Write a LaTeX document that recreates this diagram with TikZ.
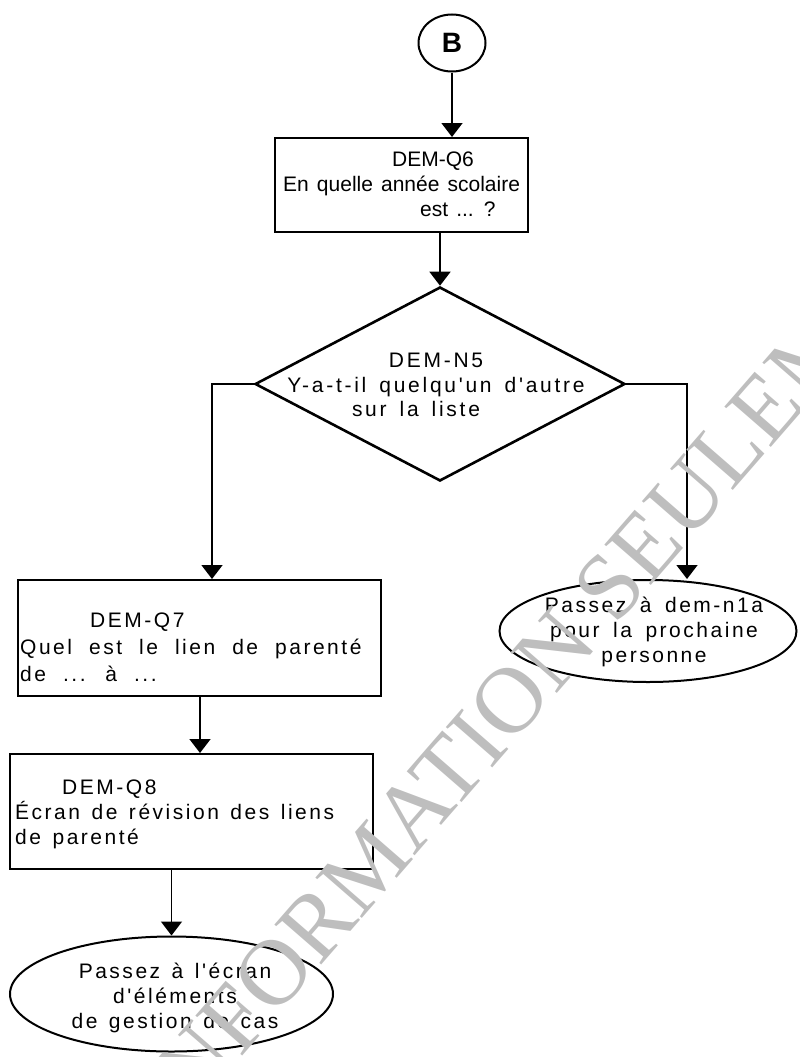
\documentclass[tikz,border=0pt]{standalone}
\usepackage{fontspec}
\setmainfont{Liberation Sans}[Ligatures=TeXOff]
\newfontfamily\fq{Liberation Sans}[Ligatures=TeXOff]
\newfontfamily\fw{Liberation Sans}[Ligatures=TeXOff,LetterSpace=12]
\newfontfamily\fd{Liberation Sans}[Ligatures=TeXOff,LetterSpace=13]
\newfontfamily\fwm{Liberation Serif}
\usetikzlibrary{shapes.geometric,arrows.meta}
\definecolor{wmgray}{RGB}{190,190,190}
\begin{document}
\begin{tikzpicture}[x=1pt,y=-1pt,
  shapeline/.style={draw=black,line width=2pt},
  boxnode/.style={shapeline,rectangle,inner sep=0pt,anchor=north west},
  ovalnode/.style={shapeline,ellipse,inner sep=0pt},
  lefttxt/.style={inner sep=0pt,align=left,anchor=north west},
  midtxt/.style={inner sep=0pt,align=center,anchor=north},
  arr/.style={line width=1.6pt,-{Triangle[length=14pt,width=21pt]}},
  wm/.style={inner sep=0pt,anchor=base west,rotate=49}]
\useasboundingbox (0,0) rectangle (800,1057);

\node[ovalnode, minimum width=67pt, minimum height=57pt] (b) at (452,43)
  {\fontsize{28}{28}\selectfont\bfseries B};

\node[boxnode, minimum width=253pt, minimum height=94pt] (q6) at (274,137) {};
\node[lefttxt, font={\fq\fontsize{21}{25}\selectfont\spaceskip=8.1pt\relax}] (q6t) at (283,152)
  {\hspace*{109pt}DEM-Q6\\En quelle année scolaire\\\hspace*{137pt}est ... ?};

\node[draw=black, line width=2.6pt, diamond, inner sep=0pt,
  minimum width=370pt, minimum height=194pt] (n5) at (440,384) {};
\node[midtxt, font={\fd\fontsize{21}{24.5}\selectfont\spaceskip=13pt\relax}] (n5t) at (436,353)
  {DEM-N5\\Y-a-t-il quelqu'un d'autre\\sur la liste\hspace*{40pt}};

\node[boxnode, minimum width=363pt, minimum height=116pt] (q7) at (17,579) {};
\node[lefttxt, font={\fw\fontsize{21}{27}\selectfont\spaceskip=17pt\relax}] (q7t) at (20,613)
  {\hspace*{70pt}DEM-Q7\\Quel est le lien de parenté\\de ... à ...};

\node[boxnode, minimum width=363pt, minimum height=115pt] (q8) at (9,753) {};
\node[lefttxt, font={\fw\fontsize{21}{25}\selectfont\spaceskip=11.5pt\relax}] (q8t) at (15,780)
  {\hspace*{47pt}DEM-Q8\\Écran de révision des liens\\de parenté};

\node[ovalnode, minimum width=297pt, minimum height=102pt] (e2) at (648,631) {};
\node[midtxt, font={\fw\fontsize{21}{25}\selectfont\spaceskip=13.5pt\relax}] (e2t) at (654,597)
  {Passez à dem-n1a\\pour la prochaine\\personne};

\node[ovalnode, minimum width=323pt, minimum height=115pt] (e1) at (171.5,994) {};
\node[midtxt, font={\fw\fontsize{21}{25}\selectfont\spaceskip=11.5pt\relax}] (e1t) at (175,963)
  {Passez à l'écran\\d'éléments\\de gestion de cas};

\draw[arr] (b.south) -- (b.south |- q6.north);
\draw[arr] (q6.south -| n5.north) -- (n5.north);
\draw[arr] (n5.west) -| ([xshift=195pt]q7.north west);
\draw[arr] (n5.east) -| ([xshift=39pt]e2.north);
\draw[arr] ([xshift=183pt]q7.south west) -- ([xshift=191pt]q8.north west);
\draw[arr] (q8.south -| e1.north) -- (e1.north);

\begin{scope}
\clip (0,0) rectangle (800,1057);
\node[wm, font=\fwm\fontsize{94}{94}\selectfont, text=wmgray] (wmt) at (175,1133) {INFORMATION SEULEMENT};
\end{scope}
\end{tikzpicture}
\end{document}
